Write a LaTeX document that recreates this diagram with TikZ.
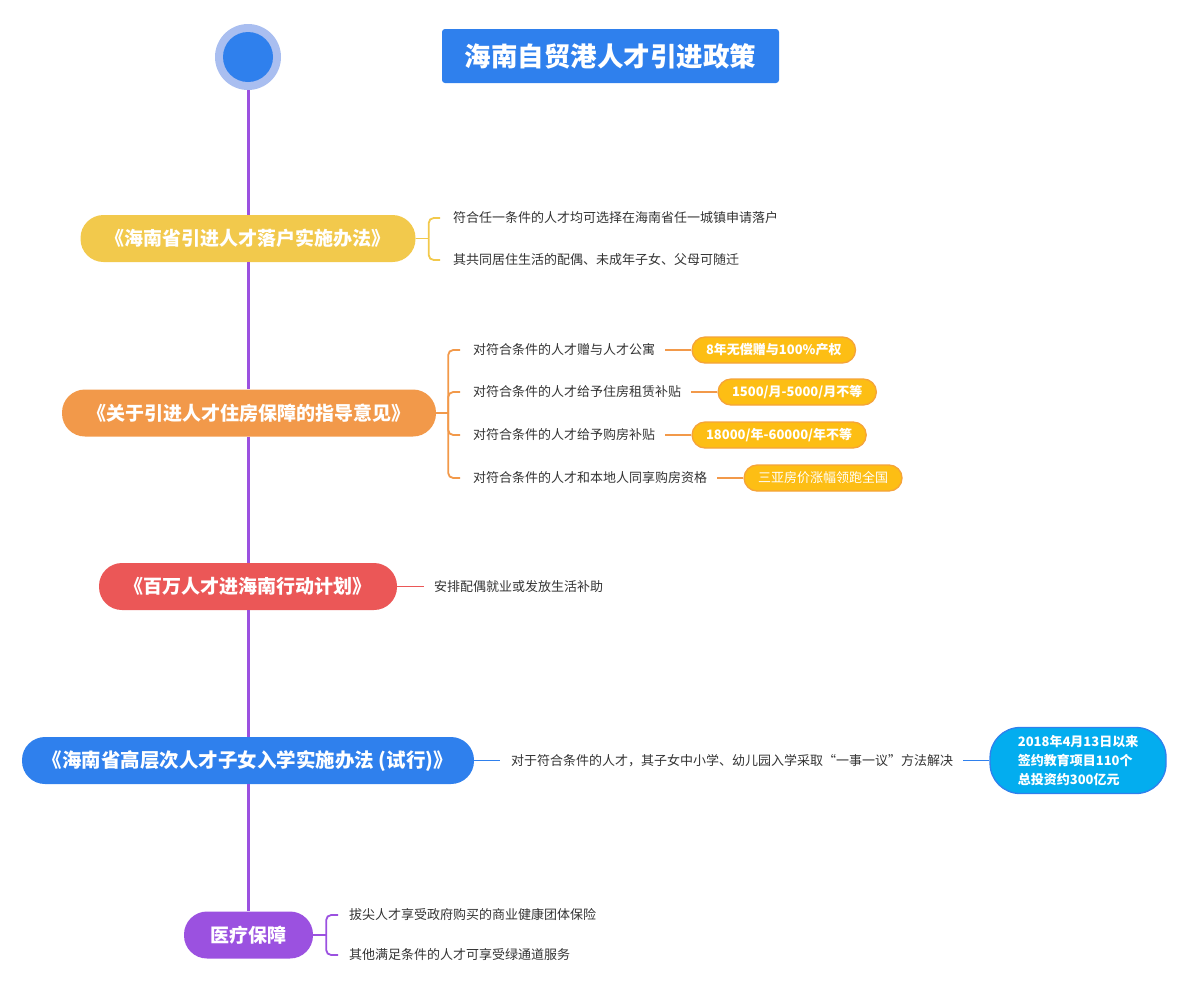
\documentclass[tikz,border=0pt]{standalone}
\usepackage{fontspec}
\setmainfont{Noto Sans CJK SC}
\usepackage{xcolor}
\usetikzlibrary{positioning}

\definecolor{mainblue}{HTML}{2F80ED}
\definecolor{ringblue}{HTML}{A9BEF0}
\definecolor{spinepurple}{HTML}{9B51E0}
\definecolor{topicyellow}{HTML}{F2C94C}
\definecolor{topicorange}{HTML}{F2994A}
\definecolor{topicred}{HTML}{EB5757}
\definecolor{taggold}{HTML}{FDBE14}
\definecolor{tagline}{HTML}{F5A33A}
\definecolor{calloutcyan}{HTML}{03ADEF}
\definecolor{textgray}{HTML}{333333}

\begin{document}
\begin{tikzpicture}[x=1pt,y=-1pt,node distance=36pt]
 				 \tikzstyle{topic}=[rounded corners=23pt, minimum height=47pt, inner xsep=0pt, text=white, font=\fontsize{19}{22}\selectfont\bfseries]
 				 \tikzstyle{leaf}=[anchor=west, inner sep=0pt, text=textgray, font=\fontsize{13}{16}\selectfont]
 				 \tikzstyle{tag}=[draw=tagline, fill=taggold, line width=1.3pt, rounded corners=13pt, minimum height=26pt, inner xsep=14pt, text=white, font=\fontsize{13}{16}\selectfont\bfseries]
 				 \tikzstyle{twig}=[line width=1.8pt, rounded corners=5pt]
						\useasboundingbox (0,0) rectangle (1185,989);

						% root and title
						\node[circle, fill=ringblue, minimum size=66pt, inner sep=0pt] (ring) at (248,57) {};
						\node[circle, fill=mainblue, minimum size=50pt, inner sep=0pt] (root) at (248,57) {};
						\node[fill=mainblue, rounded corners=3pt, minimum width=337pt, minimum height=54pt, text=white, font=\fontsize{26.5}{30}\selectfont\bfseries] (title) at (610.5,56) {海南自贸港人才引进政策};

						% topics
						\node[topic, fill=topicyellow, minimum width=335pt] (t1) at (248,238.5) {《海南省引进人才落户实施办法》};
						\node[topic, fill=topicorange, minimum width=374pt] (t2) at (249,413) {《关于引进人才住房保障的指导意见》};
						\node[topic, fill=topicred, minimum width=298pt] (t3) at (248,586.5) {《百万人才进海南行动计划》};
						\node[topic, fill=mainblue, minimum width=452pt, font=\fontsize{19.5}{22}\selectfont\bfseries] (t4) at (248,760.5) {《海南省高层次人才子女入学实施办法 (试行)》};
						\node[topic, fill=spinepurple, minimum width=129pt] (t5) at (248.5,935) {医疗保障};

						\path[draw=spinepurple, line width=3pt]
							(ring.south) -- (ring.south |- t1.north)
							(ring.south |- t1.south) -- (ring.south |- t2.north)
							(ring.south |- t2.south) -- (ring.south |- t3.north)
							(ring.south |- t3.south) -- (ring.south |- t4.north)
							(ring.south |- t4.south) -- (ring.south |- t5.north);

						% leaves
						\node[leaf] (l11) at (453,218) {符合任一条件的人才均可选择在海南省任一城镇申请落户};
						\node[leaf] (l12) at (453,260) {其共同居住生活的配偶、未成年子女、父母可随迁};
						\node[leaf] (l21) at (473,350) {对符合条件的人才赠与人才公寓};
						\node[leaf] (l22) at (473,392) {对符合条件的人才给予住房租赁补贴};
						\node[leaf] (l23) at (473,435) {对符合条件的人才给予购房补贴};
						\node[leaf] (l24) at (473,478) {对符合条件的人才和本地人同享购房资格};
						\node[leaf] (l31) at (434,586.5) {安排配偶就业或发放生活补助};
						\node[leaf] (l41) at (511,760.5) {对于符合条件的人才，其子女中小学、幼儿园入学采取“一事一议”方法解决};
						\node[leaf] (l51) at (349,915) {拔尖人才享受政府购买的商业健康团体保险};
						\node[leaf] (l52) at (349,955) {其他满足条件的人才可享受绿通道服务};

						% tags
						\node[tag] (g1) [right=of l21] {8年无偿赠与100\%产权};
						\node[tag] (g2) [right=of l22] {1500/月-5000/月不等};
						\node[tag] (g3) [right=of l23] {18000/年-60000/年不等};
						\node[tag, font=\fontsize{13}{16}\selectfont] (g4) [right=of l24] {三亚房价涨幅领跑全国};
						\node[draw=mainblue, fill=calloutcyan, line width=1.3pt, rounded corners=30pt, minimum width=176pt, minimum height=66pt, align=left, text=white, font=\fontsize{13}{19}\selectfont\bfseries] (c1) [right=of l41] {2018年4月13日以来\\签约教育项目110个\\总投资约300亿元};

						% brackets
						\draw[twig, topicyellow] (t1.east) -- ++(13,0) coordinate (k1);
						\draw[twig, topicyellow] ([xshift=-13pt]l11.west) -| (k1);
						\draw[twig, topicyellow] ([xshift=-13pt]l12.west) -| (k1);

						\draw[twig, topicorange] (t2.east) -- ++(12,0) coordinate (k2);
						\foreach \l in {l21,l22,l23,l24}
							\draw[twig, topicorange] ([xshift=-13pt]\l.west) -| (k2);
						\foreach \l/\g in {l21/g1,l22/g2,l23/g3,l24/g4}
							\draw[twig, topicorange] ([xshift=10pt]\l.east) -- (\g.west);

						\draw[twig, topicred] (t3.east) -- ([xshift=-10pt]l31.west);

						\draw[twig, mainblue] (t4.east) -- ([xshift=-11pt]l41.west);
						\draw[twig, mainblue] ([xshift=10pt]l41.east) -- (c1.west);

						\draw[twig, spinepurple] (t5.east) -- ++(13,0) coordinate (k5);
						\draw[twig, spinepurple] ([xshift=-11pt]l51.west) -| (k5);
						\draw[twig, spinepurple] ([xshift=-11pt]l52.west) -| (k5);
 				\end{tikzpicture}
\end{document}
